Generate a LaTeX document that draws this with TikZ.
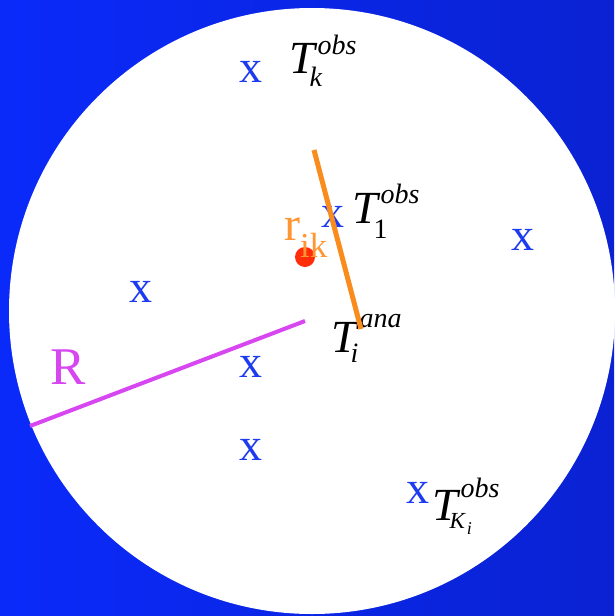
\documentclass[tikz,border=0pt]{standalone}
\usepackage{fontspec}
\setmainfont{Liberation Serif}
\usetikzlibrary{positioning}
\definecolor{bgblue}{RGB}{10, 42, 250}
\definecolor{bgdark}{RGB}{10, 34, 210}
\definecolor{markblue}{RGB}{28, 58, 240}
\definecolor{rodorange}{RGB}{250, 140, 30}
\definecolor{labelorange}{RGB}{255, 150, 50}
\definecolor{dotred}{RGB}{255, 45, 10}
\definecolor{radmagenta}{RGB}{215, 70, 240}
% T with a raised and a lowered index: raise, sup, kern, lower, sub
\newcommand{\tlab}[5]{\textit{T}\rlap{\raisebox{#1}{\fontsize{28}{30}\selectfont\itshape #2}}%
  \kern#3\raisebox{-#4}{\fontsize{28}{30}\selectfont #5}}

\begin{document}
\begin{tikzpicture}[x=1pt, y=-1pt,
  xmark/.style={text=markblue, inner sep=0pt, anchor=center,
    font=\fontsize{46}{50}\selectfont},
  tlabel/.style={inner sep=0pt, anchor=base west,
    font=\fontsize{46}{50}\selectfont}
]
\useasboundingbox (0,0) rectangle (614,616);

%% -- background and disc --
\shade[left color=bgblue, middle color=bgblue, right color=bgdark]
  (0,0) rectangle (614,616);
\fill[white] (312,311) circle[radius=303];

%% -- observation points --
\foreach \px/\py [count=\i] in {251/72, 333/217, 523/240, 141/292,
                                251/367, 251/450, 418/493}
  \node[xmark] (x\i) at (\px,\py) {x};

%% -- labels --
\node[tlabel] (tk)   at (289,73)  {\tlab{19pt}{obs}{-8pt}{13pt}{\itshape k}};
\node[tlabel] (tone) at (352,223) {\tlab{20pt}{obs}{-7pt}{15pt}{1}};
\node[tlabel] (tana) at (331,352) {\tlab{25pt}{ana}{-9pt}{10pt}{\itshape i}};
\node[tlabel] (tki)  at (432,520) {\tlab{23pt}{obs}{-11pt}{8pt}%
  {\fontsize{23}{25}\selectfont\itshape K\raisebox{-6pt}{\fontsize{18}{20}\selectfont\kern2pt i}}};

%% -- distance r_ik --
\fill[dotred] (305,257) circle[radius=10];
\node[inner sep=0pt, anchor=base west, text=labelorange,
  font=\fontsize{48}{52}\selectfont] (rik) at (284,240)
  {r\raisebox{-17pt}{\fontsize{35}{38}\selectfont ik}};

%% -- radius R --
\coordinate (rim) at (30,426);
\coordinate (ctr) at (305,321);
\draw[radmagenta, line width=4pt] (rim) -- (ctr);
\node[inner sep=0pt, anchor=base west, text=radmagenta,
  font=\fontsize{53}{56}\selectfont] (rlab) at (50,384) {R};

%% -- orange segment --
\coordinate (rtop) at (314,150);
\coordinate (rbot) at (361,329);
\draw[rodorange, line width=5pt] (rtop) -- (rbot);

\end{tikzpicture}
\end{document}
